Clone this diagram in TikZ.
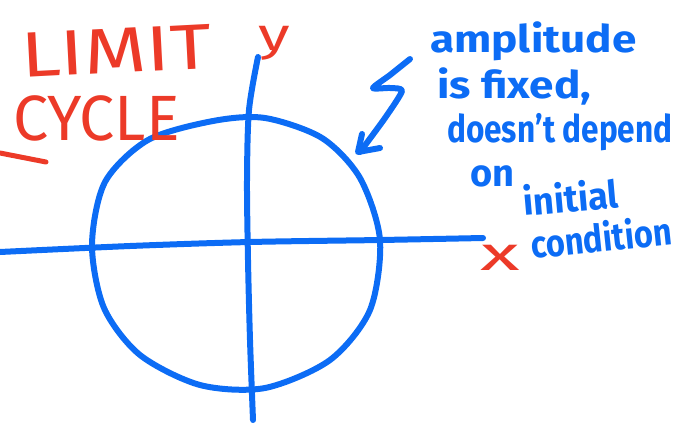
\documentclass[tikz,border=0pt]{standalone}
\usepackage{fontspec}
\setmainfont{Fira Sans}
\definecolor{penblue}{RGB}{12,108,245}
\definecolor{penred}{RGB}{236,58,40}
\begin{document}
\begin{tikzpicture}[x=1pt,y=-1pt,
  bluestroke/.style={line width=6pt, line cap=round, line join=round, draw=penblue},
  redstroke/.style={line width=5pt, line cap=round, line join=round, draw=penred},
  bluetext/.style={text=penblue, font=\fontsize{38}{38}\selectfont\bfseries, inner sep=0pt, anchor=base west},
  redtext/.style={text=penred, font=\fontsize{64}{64}\selectfont, inner sep=0pt, anchor=base west}]
\useasboundingbox (0,0) rectangle (693,437);
% axes
\draw[bluestroke] plot[smooth] coordinates {(0,252) (130,246) (250,242) (380,240) (483,238)};
\draw[bluestroke] plot[smooth] coordinates {(258,57) (249,110) (247,180) (248,260) (250,340) (253,420)};
% limit cycle
\draw[bluestroke] plot[smooth cycle] coordinates {(92,245) (105,182) (148,140) (213,121) (265,118) (322,138) (360,178) (380,240) (370,310) (330,360) (265,388) (200,385) (140,355) (104,308)};
% arrow
\draw[bluestroke] plot[smooth, tension=0.4] coordinates {(410,59) (390,75) (373,88) (390,88) (402,91) (385,118) (360,152)};
\draw[bluestroke] (362,134) -- (358,152) -- (380,148);
% red stroke
\draw[redstroke] (0,153) -- (46,162);
% texts
\node[redtext, rotate=3] (limit) at (22,78) {\scalebox{1.25}[1]{LIMIT}};
\node[redtext] (cycle) at (13,140) {\scalebox{0.98}[1]{CYCLE}};
\node[text=penred, font=\fontsize{46}{46}\selectfont, inner sep=0pt, anchor=base west] (ylab) at (258,50) {\scalebox{1.4}[1]{y}};
\node[text=penred, font=\fontsize{48}{48}\selectfont, inner sep=0pt, anchor=base west] (xlab) at (480,270) {\scalebox{1.7}[1]{x}};
\node[bluetext] (l1) at (430,52) {\scalebox{1.16}[1]{amplitude}};
\node[bluetext] (l2) at (437,98) {\scalebox{1.16}[1]{is fixed,}};
\node[bluetext] (l3) at (447,142) {\scalebox{0.83}[1]{doesn't depend}};
\node[bluetext] (l4) at (470,186) {on};
\node[bluetext, rotate=5] (l5) at (524,216) {\scalebox{0.95}[1]{initial}};
\node[bluetext, rotate=6] (l6) at (532,259) {\scalebox{0.86}[1]{condition}};
\end{tikzpicture}
\end{document}
